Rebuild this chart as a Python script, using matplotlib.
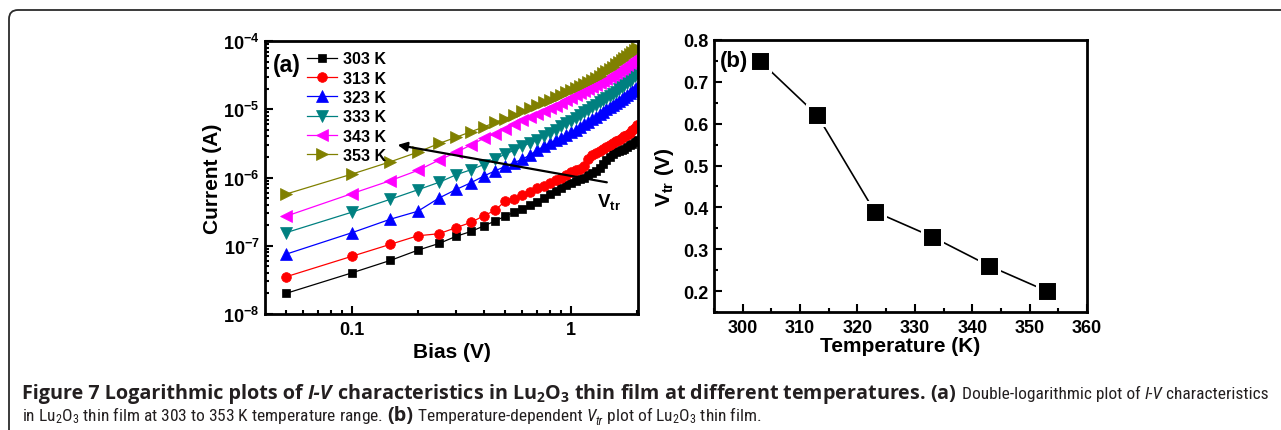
import matplotlib
matplotlib.use('Agg')
import matplotlib.pyplot as plt
from matplotlib import font_manager as fm
from matplotlib.patches import FancyBboxPatch
from matplotlib.transforms import IdentityTransform
from matplotlib.ticker import LogLocator, LogFormatterSciNotation, MultipleLocator, NullFormatter, FixedLocator, FixedFormatter

W, H, DPI = 1281, 431, 100

# ---------------- data ----------------
bias = [0.05, 0.10, 0.15, 0.20, 0.25, 0.30, 0.35, 0.40, 0.45, 0.50,
        0.55, 0.60, 0.65, 0.70, 0.75, 0.80, 0.85, 0.90, 0.95, 1.00,
        1.05, 1.10, 1.15, 1.20, 1.25, 1.30, 1.35, 1.40, 1.45, 1.50,
        1.55, 1.60, 1.65, 1.70, 1.75, 1.80, 1.85, 1.90, 1.95, 2.00]

I_303 = [2.0e-8, 4.0e-8, 6.1e-8, 8.6e-8, 1.08e-7, 1.38e-7, 1.62e-7, 1.95e-7, 2.3e-7, 2.7e-7,
         3.1e-7, 3.5e-7, 3.9e-7, 4.4e-7, 5.0e-7, 5.7e-7, 6.4e-7, 7.1e-7, 7.8e-7, 8.4e-7,
         8.9e-7, 9.4e-7, 1.0e-6, 1.08e-6, 1.15e-6, 1.25e-6, 1.4e-6, 1.6e-6, 1.8e-6, 2.0e-6,
         2.2e-6, 2.35e-6, 2.45e-6, 2.55e-6, 2.65e-6, 2.8e-6, 2.95e-6, 3.1e-6, 3.3e-6, 3.5e-6]
I_313 = [3.5e-8, 7.0e-8, 1.05e-7, 1.4e-7, 1.5e-7, 1.85e-7, 2.2e-7, 2.75e-7, 3.3e-7, 4.5e-7,
         4.9e-7, 5.6e-7, 6.2e-7, 7.0e-7, 7.6e-7, 8.4e-7, 9.2e-7, 1.0e-6, 1.1e-6, 1.2e-6,
         1.28e-6, 1.35e-6, 1.45e-6, 1.85e-6, 2.15e-6, 2.3e-6, 2.45e-6, 2.6e-6, 2.8e-6, 3.0e-6,
         3.2e-6, 3.45e-6, 3.6e-6, 3.8e-6, 4.0e-6, 4.2e-6, 4.5e-6, 4.9e-6, 5.4e-6, 5.9e-6]
I_323 = [7.5e-8, 1.55e-7, 2.45e-7, 3.2e-7, 5.0e-7, 6.7e-7, 8.4e-7, 1.05e-6, 1.25e-6, 1.45e-6,
         1.65e-6, 1.85e-6, 2.15e-6, 2.5e-6, 2.85e-6, 3.2e-6, 3.5e-6, 3.85e-6, 4.2e-6, 4.6e-6,
         5.0e-6, 5.5e-6, 6.0e-6, 6.6e-6, 7.2e-6, 7.8e-6, 8.5e-6, 9.2e-6, 1.0e-5, 1.08e-5,
         1.15e-5, 1.23e-5, 1.32e-5, 1.42e-5, 1.52e-5, 1.62e-5, 1.73e-5, 1.85e-5, 1.98e-5, 2.1e-5]
I_333 = [1.55e-7, 3.1e-7, 4.8e-7, 6.6e-7, 8.5e-7, 1.1e-6, 1.3e-6, 1.55e-6, 1.85e-6, 2.2e-6,
         2.5e-6, 2.85e-6, 3.2e-6, 3.6e-6, 4.0e-6, 4.5e-6, 5.0e-6, 5.6e-6, 6.2e-6, 6.8e-6,
         7.5e-6, 8.2e-6, 9.0e-6, 9.8e-6, 1.07e-5, 1.17e-5, 1.27e-5, 1.38e-5, 1.48e-5, 1.58e-5,
         1.7e-5, 1.82e-5, 1.96e-5, 2.1e-5, 2.25e-5, 2.42e-5, 2.6e-5, 2.8e-5, 3.05e-5, 3.4e-5]
I_343 = [2.7e-7, 5.8e-7, 9.0e-7, 1.27e-6, 1.8e-6, 2.35e-6, 3.0e-6, 3.75e-6, 4.4e-6, 5.1e-6,
         6.0e-6, 7.0e-6, 7.8e-6, 8.6e-6, 9.4e-6, 1.03e-5, 1.12e-5, 1.22e-5, 1.35e-5, 1.48e-5,
         1.6e-5, 1.72e-5, 1.85e-5, 1.98e-5, 2.12e-5, 2.27e-5, 2.42e-5, 2.6e-5, 2.78e-5, 2.95e-5,
         3.15e-5, 3.35e-5, 3.6e-5, 3.85e-5, 4.1e-5, 4.4e-5, 4.7e-5, 5.1e-5, 5.5e-5, 6.0e-5]
I_353 = [5.7e-7, 1.12e-6, 1.7e-6, 2.35e-6, 3.15e-6, 3.9e-6, 4.7e-6, 5.5e-6, 6.4e-6, 7.3e-6,
         8.3e-6, 9.4e-6, 1.05e-5, 1.16e-5, 1.27e-5, 1.38e-5, 1.5e-5, 1.63e-5, 1.76e-5, 1.9e-5,
         2.05e-5, 2.2e-5, 2.36e-5, 2.53e-5, 2.7e-5, 2.9e-5, 3.1e-5, 3.35e-5, 3.6e-5, 3.9e-5,
         4.2e-5, 4.55e-5, 4.9e-5, 5.3e-5, 5.7e-5, 6.1e-5, 6.5e-5, 7.0e-5, 7.5e-5, 8.0e-5]

series_labels = ['303 K', '313 K', '323 K', '333 K', '343 K', '353 K']
series_values = [I_303, I_313, I_323, I_333, I_343, I_353]

temperature = [303, 313, 323, 333, 343, 353]
v_tr = [0.75, 0.62, 0.39, 0.33, 0.26, 0.20]

# annotation positions (panel a)
arrow_tail = (1.456, 8.5e-7)
arrow_head = (0.162, 3.0e-6)
vtr_label_pos = (1.31, 4.6e-7)

# ---------------- styles ----------------
colors = ['#000000', '#FF0000', '#0000FF', '#008080', '#FF00FF', '#808000']
markers = ['s', 'o', '^', 'v', '<', '>']
msizes = [6.0, 7.0, 8.2, 8.2, 8.2, 8.2]


def _wnum(w):
    if isinstance(w, (int, float)):
        return w
    return {'normal': 400, 'regular': 400, 'book': 400, 'medium': 500, 'bold': 700,
            'semibold': 600, 'demibold': 600, 'heavy': 800, 'black': 900,
            'light': 300}.get(str(w).lower(), 400)


faces = {}
for f in fm.fontManager.ttflist:
    faces.setdefault(f.name, []).append((_wnum(f.weight), f.style))


def has_all(name):
    fl = faces.get(name, [])
    reg = any(w <= 500 and s == 'normal' for w, s in fl)
    bold = any(w >= 600 and s == 'normal' for w, s in fl)
    ital = any(s in ('italic', 'oblique') for w, s in fl)
    return reg and bold and ital


def pick(cands):
    for cand in cands:
        if has_all(cand):
            return cand
    return 'Liberation Sans'


reg_font = pick(['Liberation Sans Narrow', 'Roboto Condensed', 'Open Sans Condensed',
                 'Noto Sans Condensed', 'Open Sans', 'Noto Sans', 'Liberation Sans'])
bold_font = pick(['Open Sans', 'Noto Sans', 'Lato', 'Liberation Sans'])

plt.rcParams['font.family'] = ['Liberation Sans', 'DejaVu Sans']
plt.rcParams['font.weight'] = 'bold'
plt.rcParams['axes.labelweight'] = 'bold'
plt.rcParams['mathtext.fontset'] = 'custom'
plt.rcParams['mathtext.rm'] = reg_font + ':weight=normal'
plt.rcParams['mathtext.it'] = reg_font + ':style=italic:weight=normal'
plt.rcParams['mathtext.bf'] = bold_font + ':weight=bold'
plt.rcParams['mathtext.bfit'] = bold_font + ':style=italic:weight=bold'
plt.rcParams['mathtext.sf'] = 'Liberation Sans:weight=bold'

fig = plt.figure(figsize=(W / DPI, H / DPI), dpi=DPI)
fig.patch.set_facecolor('white')

# rounded frame
frame = FancyBboxPatch((9, -30), 1320, 30 + H - 11, boxstyle='round,pad=0,rounding_size=9',
                       transform=IdentityTransform(), fill=False, edgecolor='#2b2b2b', linewidth=1.3)
fig.patches.append(frame)
frame.set_figure(fig)

# ---------------- panel (a) ----------------
ax1 = fig.add_axes([265 / W, 1 - 315 / H, 373 / W, 273 / H])
handles = []
for vals, lab, c, m, ms in zip(series_values, series_labels, colors, markers, msizes):
    ln, = ax1.plot(bias, vals, color=c, marker=m, markersize=ms, markeredgewidth=0.5,
                   markeredgecolor=c, markerfacecolor=c, linewidth=0.9, label=lab)
    handles.append(ln)
ax1.set_xscale('log')
ax1.set_yscale('log')
ax1.set_xlim(0.0402, 2.02)
ax1.set_ylim(1e-8, 1e-4)
ax1.xaxis.set_major_locator(FixedLocator([0.1, 1]))
ax1.xaxis.set_major_formatter(FixedFormatter(['0.1', '1']))
ax1.xaxis.set_minor_locator(LogLocator(base=10, subs=range(2, 10)))
ax1.xaxis.set_minor_formatter(NullFormatter())
ax1.yaxis.set_major_locator(LogLocator(base=10, numticks=10))
ax1.yaxis.set_major_formatter(LogFormatterSciNotation())
ax1.yaxis.set_minor_locator(LogLocator(base=10, subs=range(2, 10), numticks=20))
ax1.yaxis.set_minor_formatter(NullFormatter())
for sp in ax1.spines.values():
    sp.set_linewidth(2.0)
ax1.tick_params(which='both', direction='in', width=1.5, labelsize=13)
ax1.tick_params(which='major', length=5.5)
ax1.tick_params(which='minor', length=3)
ax1.tick_params(axis='x', pad=5)
ax1.tick_params(axis='y', pad=4)
ax1.set_xlabel('Bias (V)', fontsize=15, labelpad=3)
ax1.set_ylabel('Current (A)', fontsize=15, labelpad=1)

leg = ax1.legend(handles=handles, loc='upper left', bbox_to_anchor=(0.113, 0.962), frameon=False,
                 borderpad=0, borderaxespad=0, handlelength=1.85, handletextpad=0.4,
                 labelspacing=0.27, numpoints=1, prop=dict(size=11.5, weight='bold'))
ax1.text(0.022, 0.915, '(a)', transform=ax1.transAxes, fontsize=16.5, fontweight='bold',
         ha='left', va='center')
ax1.annotate('', xy=arrow_head, xytext=arrow_tail,
             arrowprops=dict(arrowstyle='-|>', color='black', lw=1.6, mutation_scale=14,
                             shrinkA=0, shrinkB=0))
ax1.text(vtr_label_pos[0], vtr_label_pos[1], r'$\mathsf{V}_{\mathsf{tr}}$', fontsize=13.5,
         ha='left', va='center')

# ---------------- panel (b) ----------------
ax2 = fig.add_axes([714 / W, 1 - 313 / H, 373 / W, 272 / H])
ax2.plot(temperature, v_tr, color='black', linewidth=1.2, marker='s', markersize=14,
         markerfacecolor='black', markeredgecolor='white', markeredgewidth=2.2)
ax2.set_xlim(295, 360)
ax2.set_ylim(0.15, 0.8)
ax2.xaxis.set_major_locator(MultipleLocator(10))
ax2.xaxis.set_minor_locator(MultipleLocator(5))
ax2.yaxis.set_major_locator(MultipleLocator(0.1))
ax2.yaxis.set_minor_locator(MultipleLocator(0.05))
ax2.yaxis.set_major_formatter(matplotlib.ticker.FormatStrFormatter('%.1f'))
for sp in ax2.spines.values():
    sp.set_linewidth(2.0)
ax2.tick_params(which='both', direction='in', width=1.5, labelsize=13)
ax2.tick_params(which='major', length=5.5)
ax2.tick_params(which='minor', length=3)
ax2.tick_params(axis='x', pad=5)
ax2.tick_params(axis='y', pad=4)
ax2.set_xlabel('Temperature (K)', fontsize=15, labelpad=0)
ax2.set_ylabel(r'$\mathsf{V}_{\mathsf{tr}}$ (V)', fontsize=15, labelpad=5)
ax2.text(0.016, 0.924, '(b)', transform=ax2.transAxes, fontsize=16, fontweight='bold',
         ha='left', va='center')

# ---------------- caption ----------------
renderer = fig.canvas.get_renderer()

line1 = [
    ('Figure 7 Logarithmic plots of ', 'b'),
    ('I-V', 'bi'),
    (r' characteristics in Lu$_\mathbf{2}$O$_\mathbf{3}$ thin film at different temperatures. (a)', 'b'),
    (' Double-logarithmic plot of ', 'r'),
    ('I-V', 'ri'),
    (' characteristics', 'r'),
]
line2 = [
    (r'in Lu$_\mathrm{2}$O$_\mathrm{3}$ thin film at 303 to 353 K temperature range. ', 'r'),
    ('(b)', 'b'),
    (' Temperature-dependent ', 'r'),
    ('V', 'ri'),
    ('tr', 'ri_sub'),
    (r' plot of Lu$_\mathrm{2}$O$_\mathrm{3}$ thin film.', 'r'),
]

# weight, style, group, size scale, baseline shift (fraction of font size)
KIND = {
    'b': ('bold', 'normal', 'b', 1.0, 0.0),
    'bi': ('bold', 'italic', 'b', 1.0, 0.0),
    'r': ('normal', 'normal', 'r', 1.0, 0.0),
    'ri': ('normal', 'italic', 'r', 1.0, 0.0),
    'ri_sub': ('normal', 'italic', 'r', 0.7, -0.22),
}
FAMILY = {'b': bold_font, 'r': reg_font}
BOLD_W = 938.0          # width of the bold part of line 1 (pixels)
LINE_W = 1246.0         # full width of line 1


def seg_width(s, kind, sizes):
    weight, style, grp, sc, dy = KIND[kind]
    kw = dict(fontsize=sizes[grp] * sc, family=FAMILY[grp], fontweight=weight, fontstyle=style)
    t1 = fig.text(0, 0, 'X' + s + 'X', **kw)
    t2 = fig.text(0, 0, 'XX', **kw)
    w = t1.get_window_extent(renderer).width - t2.get_window_extent(renderer).width
    t1.remove()
    t2.remove()
    return w


def part_width(segs, grp, sizes):
    return sum(seg_width(s, k, sizes) for s, k in segs if KIND[k][2] == grp)


def draw_line(segs, x0, y0, sizes):
    x = x0
    for s, k in segs:
        weight, style, grp, sc, dy = KIND[k]
        fs = sizes[grp] * sc
        fig.text(x, y0 + dy * sizes[grp] * DPI / 72.0, s, transform=IdentityTransform(),
                 fontsize=fs, family=FAMILY[grp], fontweight=weight, fontstyle=style,
                 ha='left', va='baseline', color='#231f20')
        x += seg_width(s, k, sizes)


base = {'b': 10.0, 'r': 10.0}
wb = part_width(line1, 'b', base)
wr = part_width(line1, 'r', base)
sizes = {'b': 10.0 * BOLD_W / wb, 'r': 10.0 * (LINE_W - BOLD_W) / wr}
draw_line(line1, 22, H - 399, sizes)
draw_line(line2, 22, H - 421.5, sizes)

fig.savefig('out.png', dpi=DPI, facecolor='white')
